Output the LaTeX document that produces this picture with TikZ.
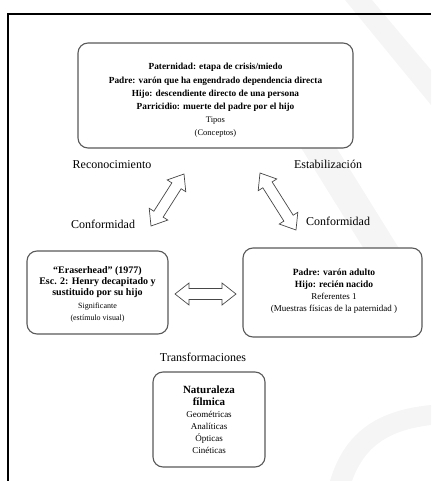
\documentclass[tikz,border=0pt]{standalone}
\usepackage{fontspec}
\setmainfont{Liberation Serif}
\usetikzlibrary{calc}
\definecolor{boxline}{gray}{0.35}
\definecolor{arrowline}{gray}{0.28}
\definecolor{markgray}{gray}{0.96}
\begin{document}
\begin{tikzpicture}[x=1pt,y=-1pt,
  panel/.style={draw=boxline, line width=1.1pt, rounded corners=10pt, fill=white, inner sep=0pt},
  paneltext/.style={align=center, inner sep=0pt},
  tag/.style={font=\fontsize{12}{14}\selectfont, inner sep=0pt},
  blockarrow/.style={draw=arrowline, fill=white, line width=0.7pt, line join=miter,
    to path={
      -- ($($(\tikztostart)!14pt!(\tikztotarget)$)!11pt!90:(\tikztotarget)$)
      -- ($($(\tikztostart)!14pt!(\tikztotarget)$)!5.5pt!90:(\tikztotarget)$)
      -- ($($(\tikztotarget)!14pt!(\tikztostart)$)!5.5pt!-90:(\tikztostart)$)
      -- ($($(\tikztotarget)!14pt!(\tikztostart)$)!11pt!-90:(\tikztostart)$)
      -- (\tikztotarget)
      -- ($($(\tikztotarget)!14pt!(\tikztostart)$)!11pt!90:(\tikztostart)$)
      -- ($($(\tikztotarget)!14pt!(\tikztostart)$)!5.5pt!90:(\tikztostart)$)
      -- ($($(\tikztostart)!14pt!(\tikztotarget)$)!5.5pt!-90:(\tikztotarget)$)
      -- ($($(\tikztostart)!14pt!(\tikztotarget)$)!11pt!-90:(\tikztotarget)$)
      -- cycle}}
]
\useasboundingbox (0,0) rectangle (431,481);

% faint background watermark
\fill[markgray] (345,0) -- (372,0) -- (431,70) -- (431,105) -- cycle;
\fill[markgray] (290,130) -- (318,118) -- (400,250) -- (372,262) -- cycle;
\fill[markgray] (330,481) .. controls (345,430) and (380,410) .. (431,405)
  -- (431,425) .. controls (390,430) and (365,445) .. (352,481) -- cycle;

% outer frame
\draw[line width=2.2pt] (8,481) -- (8,14) -- (431,14);

% top panel: concepts
\node[panel, minimum width=275pt, minimum height=105pt] (top) at (215.5,95.5) {};
\node[paneltext, font=\fontsize{9.3}{13.2}\selectfont] (toptext) at (215.5,100.5) {%
  \textbf{Paternidad: etapa de crisis/miedo}\\
  \textbf{Padre: varón que ha engendrado dependencia directa}\\
  \textbf{Hijo: descendiente directo de una persona}\\
  \textbf{Parricidio: muerte del padre por el hijo}\\
  {\fontsize{8.5}{12}\selectfont Tipos}\\
  {\fontsize{8.5}{12}\selectfont (Conceptos)}};

% left panel: film scene
\node[panel, minimum width=141pt, minimum height=83pt] (scene) at (97.5,292.5) {};
\node[paneltext] (scenetext) at (97.5,294) {%
  {\fontsize{10}{13}\selectfont\bfseries “Eraserhead” (1977)}\\[-1pt]
  {\fontsize{10}{12}\selectfont\bfseries Esc. 2: Henry decapitado y}\\[-1pt]
  {\fontsize{10}{12}\selectfont\bfseries sustituido por su hijo}\\[1pt]
  {\fontsize{8}{11}\selectfont Significante}\\
  {\fontsize{8}{11}\selectfont (estímulo visual)}};

% right panel: referents
\node[panel, minimum width=179pt, minimum height=89pt] (refs) at (332.5,292.5) {};
\node[paneltext, font=\fontsize{9}{12}\selectfont] (refstext) at (334,291) {%
  {\fontsize{9.5}{12}\selectfont\bfseries Padre: varón adulto}\\
  {\fontsize{9.5}{12}\selectfont\bfseries Hijo: recién nacido}\\
  Referentes 1\\
  (Muestras físicas de la paternidad )};

% bottom panel: transformations
\node[panel, minimum width=112pt, minimum height=95pt] (nature) at (209,419.5) {};
\node[paneltext] (naturetext) at (209,420) {%
  {\fontsize{11}{14}\selectfont\bfseries Naturaleza}\\
  {\fontsize{11}{13}\selectfont\bfseries fílmica}\\
  {\fontsize{9}{12.5}\selectfont Geométricas}\\
  {\fontsize{9}{12.5}\selectfont Analíticas}\\
  {\fontsize{9}{12.5}\selectfont Ópticas}\\
  {\fontsize{9}{12.5}\selectfont Cinéticas}};

% relation labels
\node[tag] (recog) at (112,165) {Reconocimiento};
\node[tag] (stab) at (328,164) {Estabilización};
\node[tag] (confL) at (103,224) {Conformidad};
\node[tag] (confR) at (338,221) {Conformidad};
\node[tag] (transf) at (203,357) {Transformaciones};

% block arrow end points
\coordinate (la) at (151,226);
\coordinate (lb) at (184,174);
\coordinate (ra) at (260,173);
\coordinate (rb) at (296,230);
\coordinate (ha) at (175,294);
\coordinate (hb) at (236,294);

\draw[blockarrow] (la) to (lb);
\draw[blockarrow] (ra) to (rb);
\draw[blockarrow] (ha) to (hb);
\end{tikzpicture}
\end{document}
